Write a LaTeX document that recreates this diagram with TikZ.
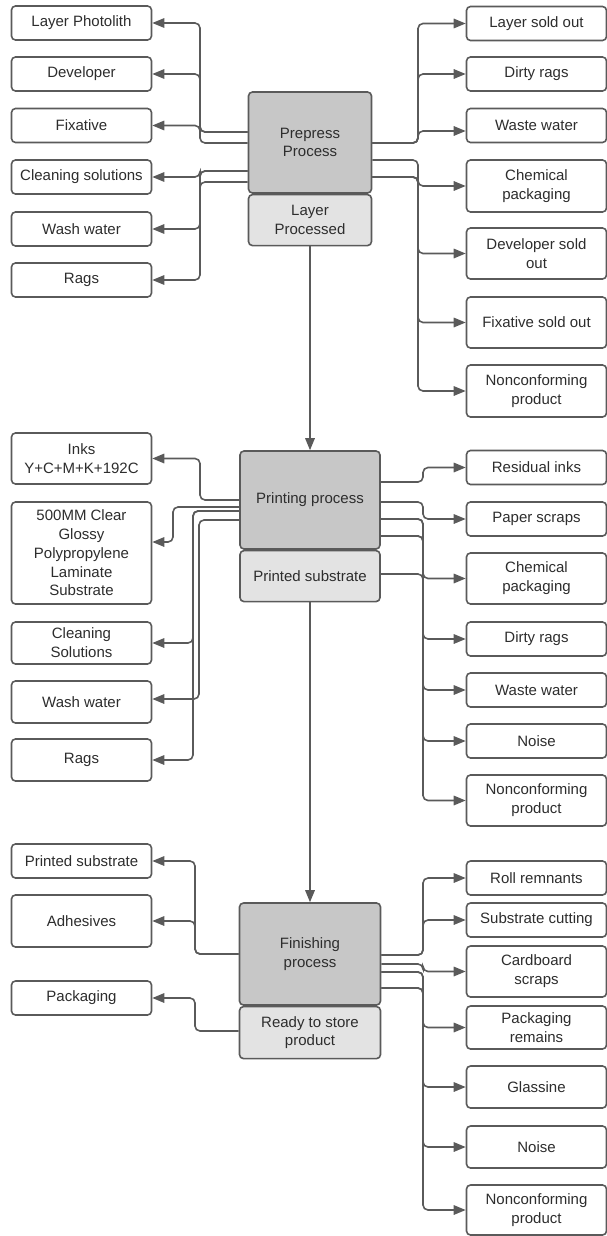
\documentclass[tikz,border=0pt]{standalone}
\usepackage{fontspec}
\setmainfont{Liberation Sans}
\usetikzlibrary{arrows.meta, positioning}
\definecolor{linegray}{RGB}{90,90,90}
\definecolor{textgray}{RGB}{45,45,45}
\definecolor{procgray}{RGB}{199,199,199}
\definecolor{subgray}{RGB}{227,227,227}

\begin{document}
\begin{tikzpicture}[x=1pt, y=-1pt,
      outbox/.style={rectangle, draw=linegray, line width=1.6pt, rounded corners=4pt, fill=white,
                     text=textgray, minimum width=140pt, minimum height=34pt, inner sep=3pt,
                     align=center, font=\fontsize{15}{18.8}\selectfont},
      procbox/.style={outbox, fill=procgray},
      subbox/.style={outbox, fill=subgray, minimum height=51pt},
      arr/.style={-{Triangle[length=12pt, width=9.5pt]}, line width=1.6pt, draw=linegray, rounded corners=5pt},
      link/.style={-{Triangle[length=12pt, width=9.5pt]}, line width=1.6pt, draw=linegray}
    ]
    \useasboundingbox (0,0) rectangle (607,1236);

    \node[procbox, minimum width=123pt, minimum height=101pt] (prep) at (310,142.5) {Prepress\\Process};
    \node[subbox, minimum width=123pt, below=0pt of prep] (prepout) {Layer\\Processed};

    \node[outbox] (photo) at (81.5,23) {Layer Photolith};
    \node[outbox] (dev) at (81.5,74) {Developer};
    \node[outbox] (fix) at (81.5,125.5) {Fixative};
    \node[outbox] (clean) at (81.5,177) {Cleaning solutions};
    \node[outbox] (wash) at (81.5,229) {Wash water};
    \node[outbox] (rags) at (81.5,280) {Rags};

    \node[outbox] (lsold) at (536.5,23.5) {Layer sold out};
    \node[outbox] (drags) at (536.5,74) {Dirty rags};
    \node[outbox] (wwater) at (536.5,125.5) {Waste water};
    \node[outbox, minimum height=52pt] (chem) at (536.5,186) {Chemical\\packaging};
    \node[outbox, minimum height=51pt] (devsold) at (536.5,253.5) {Developer sold\\out};
    \node[outbox, minimum height=51pt] (fixsold) at (536.5,322.5) {Fixative sold out};
    \node[outbox, minimum height=52pt] (noncon) at (536.5,391) {Nonconforming\\product};

    \draw[arr] (prep.west |- 0,132) -- (200,132) |- (photo.east);
    \draw[arr] (prep.west |- 0,132) -- (200,132) |- (dev.east);
    \draw[arr] (prep.west |- 0,143) -- (200,143) |- (fix.east);
    \draw[arr] (prep.west |- 0,171) -- (200,171) |- (clean.east);
    \draw[arr] (prep.west |- 0,171) -- (200,171) |- (wash.east);
    \draw[arr] (prep.west |- 0,182) -- (200,182) |- (rags.east);

    \draw[arr] (prep.east |- 0,143) -- (418,143) |- (lsold.west);
    \draw[arr] (prep.east |- 0,143) -- (418,143) |- (drags.west);
    \draw[arr] (prep.east |- 0,143) -- (418,143) |- (wwater.west |- 0,131);
    \draw[arr] (prep.east |- 0,160) -- (418,160) |- (chem.west);
    \draw[arr] (prep.east |- 0,177) -- (418,177) |- (devsold.west);
    \draw[arr] (prep.east |- 0,177) -- (418,177) |- (fixsold.west);
    \draw[arr] (prep.east |- 0,177) -- (418,177) |- (noncon.west);

    \node[procbox, minimum width=140pt, minimum height=98pt] (print) at (310,500) {Printing process};
    \node[subbox, minimum width=140pt, below=0pt of print] (printout) {Printed substrate};
    \draw[link] (prepout.south) -- (print.north);

    \node[outbox, minimum height=51pt] (inks) at (81.5,458.5) {Inks\\Y+C+M+K+192C};
    \node[outbox, minimum height=102pt] (mm500) at (81.5,553) {500MM Clear\\Glossy\\Polypropylene\\Laminate\\Substrate};
    \node[outbox, minimum height=42pt] (cleansol) at (81.5,643) {Cleaning\\Solutions};
    \node[outbox, minimum height=42pt] (washm) at (81.5,702) {Wash water};
    \node[outbox, minimum height=42pt] (ragsm) at (81.5,760) {Rags};

    \node[outbox] (resink) at (536.5,467.5) {Residual inks};
    \node[outbox] (pscrap) at (536.5,519) {Paper scraps};
    \node[outbox, minimum height=51pt] (chem2) at (536.5,578.5) {Chemical\\packaging};
    \node[outbox] (drags2) at (536.5,639) {Dirty rags};
    \node[outbox] (wwater2) at (536.5,690) {Waste water};
    \node[outbox] (noise2) at (536.5,741) {Noise};
    \node[outbox, minimum height=51pt] (noncon2) at (536.5,800.5) {Nonconforming\\product};

    \draw[arr] (print.west |- 0,500) -- (200,500) |- (inks.east);
    \draw[arr] (print.west |- 0,507) -- (173,507) |- (mm500.east |- 0,542);
    \draw[arr] (print.west |- 0,511) -- (193,511) |- (cleansol.east);
    \draw[arr] (print.west |- 0,511) -- (193,511) |- (ragsm.east);
    \draw[arr] (print.west |- 0,520) -- (199,520) |- (washm.east |- 0,699);

    \draw[arr] (print.east |- 0,482) -- (423,482) |- (resink.west);
    \draw[arr] (print.east |- 0,502) -- (423,502) |- (pscrap.west);
    \draw[arr] (print.east |- 0,519) -- (423,519) |- (drags2.west);
    \draw[arr] (print.east |- 0,519) -- (423,519) |- (wwater2.west);
    \draw[arr] (print.east |- 0,536) -- (423,536) |- (noise2.west);
    \draw[arr] (print.east |- 0,536) -- (423,536) |- (noncon2.west);
    \draw[arr] (printout.east |- 0,574) -- (423,574) |- (chem2.west);

    \node[procbox, minimum width=141pt, minimum height=102pt] (fin) at (310,954) {Finishing\\process};
    \node[subbox, minimum width=141pt, minimum height=52pt, below=0pt of fin] (finout) {Ready to store\\product};
    \draw[link] (printout.south) -- (fin.north);

    \node[outbox] (psub) at (81.5,861) {Printed substrate};
    \node[outbox, minimum height=52pt] (adh) at (81.5,921) {Adhesives};
    \node[outbox] (pack) at (81.5,998) {Packaging};

    \draw[arr] (fin.west |- 0,954) -- (195,954) |- (psub.east);
    \draw[arr] (fin.west |- 0,954) -- (195,954) |- (adh.east);
    \draw[arr] (finout.west |- 0,1031) -- (195,1031) |- (pack.east);

    \node[outbox] (roll) at (536.5,878) {Roll remnants};
    \node[outbox] (subcut) at (536.5,920) {Substrate cutting};
    \node[outbox, minimum height=51pt] (cardb) at (536.5,971.5) {Cardboard\\scraps};
    \node[outbox, minimum height=43pt] (packrem) at (536.5,1027.5) {Packaging\\remains};
    \node[outbox, minimum height=42pt] (glass) at (536.5,1087) {Glassine};
    \node[outbox, minimum height=42pt] (noise3) at (536.5,1147) {Noise};
    \node[outbox, minimum height=50pt] (noncon3) at (536.5,1210) {Nonconforming\\product};

    \draw[arr] (fin.east |- 0,955) -- (423,955) |- (roll.west);
    \draw[arr] (fin.east |- 0,955) -- (423,955) |- (subcut.west);
    \draw[arr] (fin.east |- 0,964) -- (423,964) |- (cardb.west);
    \draw[arr] (fin.east |- 0,972) -- (423,972) |- (packrem.west);
    \draw[arr] (fin.east |- 0,972) -- (423,972) |- (glass.west);
    \draw[arr] (fin.east |- 0,988) -- (423,988) |- (noise3.west);
    \draw[arr] (fin.east |- 0,988) -- (423,988) |- (noncon3.west);
  \end{tikzpicture}
\end{document}
